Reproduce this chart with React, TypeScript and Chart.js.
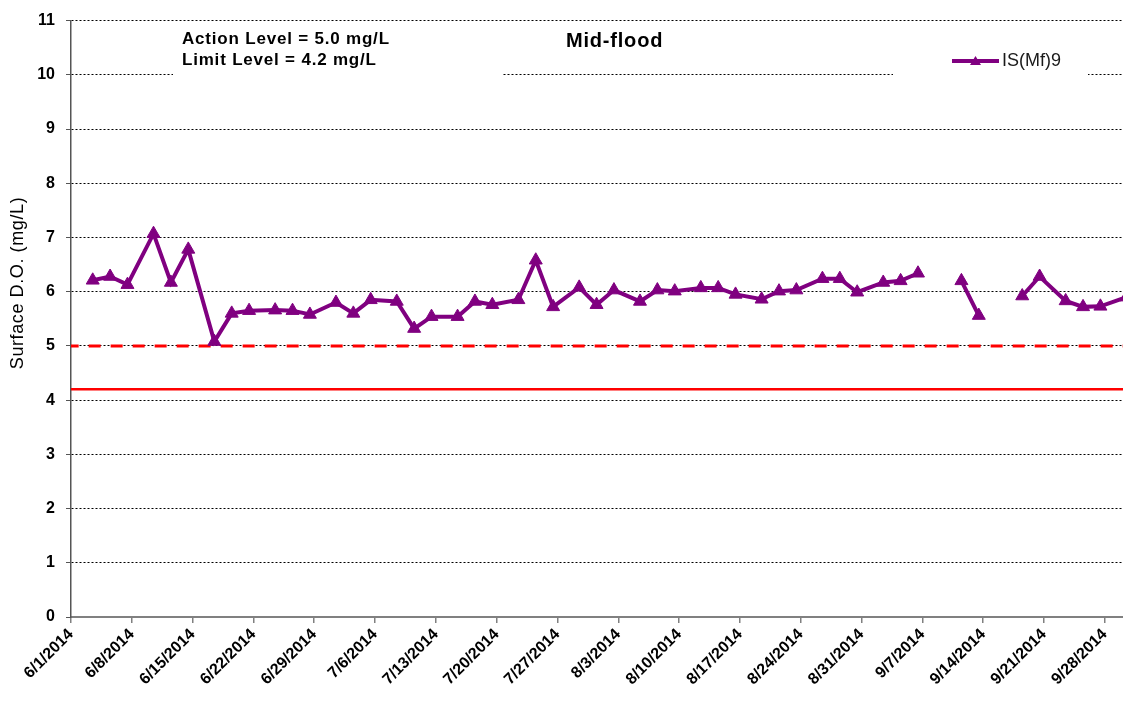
import React, { useEffect, useRef } from "react";
import { Chart, registerables } from "chart.js";

Chart.register(...registerables);

// ---------- data ----------
const SERIES_NAME = "IS(Mf)9";
const CHART_TITLE = "Mid-flood";
const NOTE_LINES = ["Action Level = 5.0 mg/L", "Limit Level = 4.2 mg/L"];
const Y_TITLE = "Surface D.O. (mg/L)";

const SAMPLE_DATES = [
  "6/3/2014", "6/5/2014", "6/7/2014", "6/10/2014", "6/12/2014", "6/14/2014",
  "6/17/2014", "6/19/2014", "6/21/2014", "6/24/2014", "6/26/2014", "6/28/2014",
  "7/1/2014", "7/3/2014", "7/5/2014", "7/8/2014", "7/10/2014", "7/12/2014",
  "7/15/2014", "7/17/2014", "7/19/2014", "7/22/2014", "7/24/2014", "7/26/2014",
  "7/29/2014", "7/31/2014", "8/2/2014", "8/5/2014", "8/7/2014", "8/9/2014",
  "8/12/2014", "8/14/2014", "8/16/2014", "8/19/2014", "8/21/2014", "8/23/2014",
  "8/26/2014", "8/28/2014", "8/30/2014", "9/2/2014", "9/4/2014", "9/6/2014",
  "9/9/2014", "9/11/2014", "9/13/2014", "9/16/2014", "9/18/2014", "9/20/2014",
  "9/23/2014", "9/25/2014", "9/27/2014", "9/30/2014",
];

const DO_VALUES: (number | null)[] = [
  6.21, 6.28, 6.13, 7.07, 6.17, 6.78,
  5.08, 5.6, 5.65, 5.66, 5.65, 5.58,
  5.8, 5.6, 5.85, 5.82, 5.32, 5.54,
  5.54, 5.82, 5.76, 5.85, 6.58, 5.72,
  6.08, 5.76, 6.03, 5.82, 6.03, 6.01,
  6.07, 6.07, 5.95, 5.86, 6.01, 6.03,
  6.24, 6.24, 5.99, 6.17, 6.2, 6.34,
  null, 6.2, 5.56, null, 5.92, 6.28,
  5.83, 5.72, 5.73, 5.9,
];

const ACTION_LEVEL = 5.0;
const LIMIT_LEVEL = 4.2;
const LEVEL_DATES = ["5/31/2014", "9/30/2014"];

const TICK_DATES = [
  "6/1/2014", "6/8/2014", "6/15/2014", "6/22/2014", "6/29/2014", "7/6/2014",
  "7/13/2014", "7/20/2014", "7/27/2014", "8/3/2014", "8/10/2014", "8/17/2014",
  "8/24/2014", "8/31/2014", "9/7/2014", "9/14/2014", "9/21/2014", "9/28/2014",
];
const AXIS_START = "6/1/2014";
const AXIS_END_DAYS = 121.1;
const Y_MIN = 0;
const Y_MAX = 11;

// ---------- helpers ----------
const dayOf = (s: string) => {
  const [m, d, y] = s.split("/").map(Number);
  const [m0, d0, y0] = AXIS_START.split("/").map(Number);
  return (Date.UTC(y, m - 1, d) - Date.UTC(y0, m0 - 1, d0)) / 86400000;
};
// points sit in the middle of their day slot
const mid = (s: string) => dayOf(s) + 0.5;

const PURPLE = "#800080";
const RED = "#FF0000";
const FONT = "'Liberation Sans', Arial, sans-serif";

const overlayPlugin = {
  id: "overlay",
  beforeDatasetsDraw(chart: any) {
    const ctx = chart.ctx as CanvasRenderingContext2D;
    ctx.save();
    ctx.fillStyle = "#ffffff";
    ctx.fillRect(173, 24, 329, 54);
    ctx.fillRect(893, 44, 195, 36);
    ctx.restore();
  },
  afterDraw(chart: any) {
    const ctx = chart.ctx as any;
    ctx.save();
    // note text
    ctx.fillStyle = "#000";
    ctx.textAlign = "left";
    ctx.textBaseline = "alphabetic";
    ctx.font = `bold 17px ${FONT}`;
    ctx.letterSpacing = "0.8px";
    ctx.fillText(NOTE_LINES[0], 182, 44);
    ctx.fillText(NOTE_LINES[1], 182, 65);
    // title
    ctx.font = `bold 20px ${FONT}`;
    ctx.letterSpacing = "0.8px";
    ctx.fillText(CHART_TITLE, 566, 47);
    // legend
    ctx.letterSpacing = "0px";
    ctx.strokeStyle = PURPLE;
    ctx.lineWidth = 4;
    ctx.beginPath();
    ctx.moveTo(952, 61);
    ctx.lineTo(999, 61);
    ctx.stroke();
    ctx.fillStyle = PURPLE;
    ctx.beginPath();
    ctx.moveTo(975.5, 56);
    ctx.lineTo(981, 65);
    ctx.lineTo(970, 65);
    ctx.closePath();
    ctx.fill();
    ctx.fillStyle = "#1a1a1a";
    ctx.font = `18px ${FONT}`;
    ctx.textBaseline = "middle";
    ctx.fillText(SERIES_NAME, 1002, 61);
    // y title
    ctx.translate(18, 283);
    ctx.rotate(-Math.PI / 2);
    ctx.textAlign = "center";
    ctx.fillStyle = "#000";
    ctx.font = `18px ${FONT}`;
    ctx.letterSpacing = "0.6px";
    ctx.fillText(Y_TITLE, 0, 0);
    ctx.restore();
  },
};

export default function App() {
  const ref = useRef<HTMLCanvasElement | null>(null);

  useEffect(() => {
    if (!ref.current) return;
    const chart = new Chart(ref.current, {
      type: "line",
      data: {
        datasets: [
          {
            label: SERIES_NAME,
            data: SAMPLE_DATES.map((d, i) => ({ x: mid(d), y: DO_VALUES[i] })) as any,
            borderColor: PURPLE,
            backgroundColor: PURPLE,
            borderWidth: 4,
            pointStyle: "triangle",
            pointRadius: 7.5,
            pointBorderWidth: 1,
            pointBackgroundColor: PURPLE,
            pointBorderColor: PURPLE,
            spanGaps: false,
            tension: 0,
            order: 0,
          },
          {
            label: "Action Level",
            data: LEVEL_DATES.map((d) => ({ x: mid(d), y: ACTION_LEVEL })),
            borderColor: RED,
            borderWidth: 3,
            borderDash: [12, 10],
            pointRadius: 0,
            order: 2,
          },
          {
            label: "Limit Level",
            data: LEVEL_DATES.map((d) => ({ x: mid(d), y: LIMIT_LEVEL })),
            borderColor: RED,
            borderWidth: 2.5,
            pointRadius: 0,
            order: 1,
          },
        ],
      },
      options: {
        responsive: false,
        animation: false,
        devicePixelRatio: 1,
        layout: { autoPadding: false, padding: { top: 17, left: 0, right: 0, bottom: 0 } },
        plugins: {
          legend: { display: false },
          tooltip: { enabled: false },
          title: { display: false },
        },
        scales: {
          x: {
            type: "linear",
            min: 0,
            max: AXIS_END_DAYS,
            afterBuildTicks: (s: any) => {
              s.ticks = TICK_DATES.map((d) => ({ value: dayOf(d) }));
            },
            afterFit: (s: any) => {
              s.height = 89;
              s.paddingRight = 0;
              s.paddingLeft = 0;
            },
            ticks: {
              autoSkip: false,
              minRotation: 45,
              maxRotation: 45,
              padding: 2,
              color: "#000",
              font: { family: FONT, size: 16, weight: "bold" },
              callback: (_v: any, i: number) => TICK_DATES[i],
            },
            grid: {
              drawOnChartArea: false,
              drawTicks: true,
              tickLength: 6,
              color: "#808080",
              lineWidth: 1.5,
            },
            border: { color: "#808080", width: 2 },
          },
          y: {
            min: Y_MIN,
            max: Y_MAX,
            afterFit: (s: any) => {
              s.width = 71;
            },
            ticks: {
              stepSize: 1,
              padding: 11,
              color: "#000",
              font: { family: FONT, size: 16, weight: "bold" },
            },
            grid: {
              color: (c: any) =>
                c.tick && c.tick.value === 0 ? "rgba(0,0,0,0)" : "#000",
              lineWidth: 1,
              tickLength: 5,
              tickColor: "#555",
              tickBorderDash: [],
            },
            border: { color: "#555", width: 1.5, dash: [2, 2] },
          },
        },
      },
      plugins: [overlayPlugin],
    } as any);
    return () => chart.destroy();
  }, []);

  return (
    <canvas
      ref={ref}
      width={1123}
      height={706}
      style={{ position: "fixed", left: 0, top: 0, width: 1123, height: 706, background: "#fff" }}
    />
  );
}
